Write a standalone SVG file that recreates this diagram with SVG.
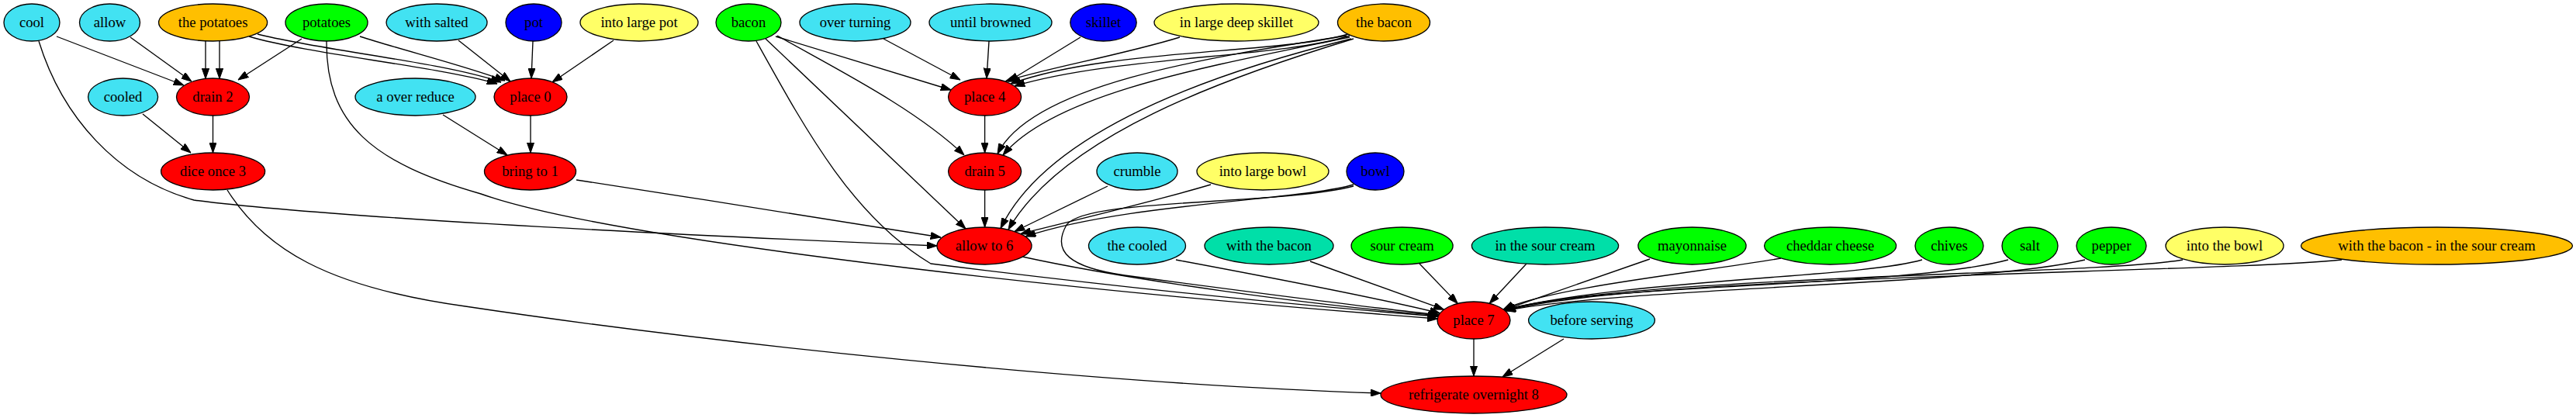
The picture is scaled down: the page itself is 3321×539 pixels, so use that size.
<svg xmlns="http://www.w3.org/2000/svg" width="3321" height="539" viewBox="0 0 3321 539">
<style>
.n ellipse{stroke:#000;stroke-width:1.33}
.n text{font-family:"Liberation Serif","Times New Roman",serif;font-size:18.67px;text-anchor:middle;fill:#000}
.cy{fill:#42e2f2}.or{fill:#ffbf00}.gr{fill:#00ff00}.bl{fill:#0000ff}.ye{fill:#ffff66}.rd{fill:#ff0000}.tl{fill:#00dfa8}
#edges path{fill:none;stroke:#000;stroke-width:1.33;marker-end:url(#ah)}
</style>
<defs>
<marker id="ah" viewBox="0 0 13.3 9.34" refX="13.3" refY="4.67" markerWidth="13.3" markerHeight="9.34" markerUnits="userSpaceOnUse" orient="auto"><path d="M0,0 L13.3,4.67 L0,9.34 z" fill="#000" stroke="#000" stroke-width="1"/></marker>
</defs>
<rect width="3321" height="539" fill="#fff"/>
<g id="edges">
<path d="M73,47 L237,110"/>
<path d="M50,53 C80,150 150,230 250,258 C400,278 800,300 1208,317"/>
<path d="M168,48 L247,105"/>
<path d="M265,53 L265,101.5"/>
<path d="M283,53 L283,101.5"/>
<path d="M321,47 C400,70 560,85 641,108"/>
<path d="M332,44 C420,66 570,80 646,106"/>
<path d="M389,50 L307,103"/>
<path d="M464,47 C520,65 600,85 651,104"/>
<path d="M421,53 C420,160 480,210 620,250 C760,300 1250,365 1853.5,411"/>
<path d="M184,147 L246,197"/>
<path d="M274.5,149 L274.5,197"/>
<path d="M293,245 C340,320 420,370 600,395 C900,440 1400,495 1780,507"/>
<path d="M591,52 L658,105"/>
<path d="M687,53 L685,101"/>
<path d="M791,52 L712,106"/>
<path d="M571,148 L654,200"/>
<path d="M684,149 L684,197"/>
<path d="M743,232 C900,256 1100,288 1213,306"/>
<path d="M1000,47 L1226,116"/>
<path d="M1002,46 C1080,90 1180,140 1243,200"/>
<path d="M987,50 L1245,295"/>
<path d="M975,53 C1040,170 1100,280 1200,340 C1400,365 1650,392 1854,408"/>
<path d="M1139,50 L1238,103"/>
<path d="M1275,53 L1272,101"/>
<path d="M1393,48 L1300,105"/>
<path d="M1521,48 C1450,70 1340,90 1296,105"/>
<path d="M1738,44 C1650,70 1430,62 1303,108"/>
<path d="M1740,46 C1650,75 1440,72 1308,111"/>
<path d="M1736,46 C1550,75 1330,110 1286,198.5"/>
<path d="M1740,48 C1560,85 1360,120 1293,200"/>
<path d="M1742,50 C1560,95 1350,170 1290,294.5"/>
<path d="M1745,50 C1580,100 1370,175 1300,296"/>
<path d="M1269.6,149 L1269.6,197"/>
<path d="M1269.6,245 L1269.6,293"/>
<path d="M1428,240 L1308,298.5"/>
<path d="M1561,238 C1480,262 1380,285 1316,301.5"/>
<path d="M1745,238 C1680,258 1450,262 1322,305"/>
<path d="M1745,240 C1650,265 1400,255 1375,290 C1355,325 1380,345 1450,355 C1600,375 1750,395 1855,406"/>
<path d="M1318,331 C1450,360 1700,395 1854.7,406.6"/>
<path d="M1516,335 C1650,360 1780,385 1856.5,404"/>
<path d="M1689,337 L1861.6,399.2"/>
<path d="M1830,340 L1879.3,391.4"/>
<path d="M1968,340 L1920.2,391.3"/>
<path d="M2127,334 L1938.8,399.5"/>
<path d="M2296,333 C2200,350 2000,370 1938,399"/>
<path d="M2478,335 C2400,358 2100,360 1939,399.5"/>
<path d="M2589,335 C2450,372 2050,365 1940,400"/>
<path d="M2688,335 C2550,368 2100,370 1940.5,400.5"/>
<path d="M2814,335 C2700,355 2100,355 1940,400"/>
<path d="M3019,335 C2850,352 2100,355 1941,401"/>
<path d="M1900,437 L1900,485"/>
<path d="M2016,437 L1937,486"/>
</g>
<g id="n_cool" class="n"><ellipse class="cy" cx="41" cy="29" rx="36" ry="24"/><text x="41" y="35">cool</text></g>
<g id="n_allow" class="n"><ellipse class="cy" cx="141.5" cy="29" rx="39" ry="24"/><text x="141.5" y="35">allow</text></g>
<g id="n_the_potatoes" class="n"><ellipse class="or" cx="274.6" cy="29" rx="70" ry="24"/><text x="274.6" y="35">the potatoes</text></g>
<g id="n_potatoes" class="n"><ellipse class="gr" cx="421" cy="29" rx="53" ry="24"/><text x="421" y="35">potatoes</text></g>
<g id="n_with_salted" class="n"><ellipse class="cy" cx="563" cy="29" rx="65" ry="24"/><text x="563" y="35">with salted</text></g>
<g id="n_pot" class="n"><ellipse class="bl" cx="688" cy="29" rx="36" ry="24"/><text x="688" y="35">pot</text></g>
<g id="n_into_large_pot" class="n"><ellipse class="ye" cx="824" cy="29" rx="76" ry="24"/><text x="824" y="35">into large pot</text></g>
<g id="n_bacon" class="n"><ellipse class="gr" cx="965" cy="29" rx="42" ry="24"/><text x="965" y="35">bacon</text></g>
<g id="n_over_turning" class="n"><ellipse class="cy" cx="1102.5" cy="29" rx="71.5" ry="24"/><text x="1102.5" y="35">over turning</text></g>
<g id="n_until_browned" class="n"><ellipse class="cy" cx="1277" cy="29" rx="79" ry="24"/><text x="1277" y="35">until browned</text></g>
<g id="n_skillet" class="n"><ellipse class="bl" cx="1422.5" cy="29" rx="42.7" ry="24"/><text x="1422.5" y="35">skillet</text></g>
<g id="n_in_large_deep_skillet" class="n"><ellipse class="ye" cx="1594" cy="29" rx="106" ry="24"/><text x="1594" y="35">in large deep skillet</text></g>
<g id="n_the_bacon" class="n"><ellipse class="or" cx="1784" cy="29" rx="59.5" ry="24"/><text x="1784" y="35">the bacon</text></g>
<g id="n_cooled" class="n"><ellipse class="cy" cx="158.6" cy="125" rx="45" ry="24"/><text x="158.6" y="131">cooled</text></g>
<g id="n_drain2" class="n"><ellipse class="rd" cx="274.5" cy="125" rx="47" ry="24"/><text x="274.5" y="131">drain 2</text></g>
<g id="n_a_over_reduce" class="n"><ellipse class="cy" cx="535.5" cy="125" rx="77.5" ry="24"/><text x="535.5" y="131">a over reduce</text></g>
<g id="n_place0" class="n"><ellipse class="rd" cx="684" cy="125" rx="47" ry="24"/><text x="684" y="131">place 0</text></g>
<g id="n_place4" class="n"><ellipse class="rd" cx="1269.6" cy="125" rx="47" ry="24"/><text x="1269.6" y="131">place 4</text></g>
<g id="n_dice_once3" class="n"><ellipse class="rd" cx="274.6" cy="221" rx="67" ry="24"/><text x="274.6" y="227">dice once 3</text></g>
<g id="n_bring_to1" class="n"><ellipse class="rd" cx="683.5" cy="221" rx="59" ry="24"/><text x="683.5" y="227">bring to 1</text></g>
<g id="n_drain5" class="n"><ellipse class="rd" cx="1269.6" cy="221" rx="47" ry="24"/><text x="1269.6" y="227">drain 5</text></g>
<g id="n_crumble" class="n"><ellipse class="cy" cx="1466" cy="221" rx="52" ry="24"/><text x="1466" y="227">crumble</text></g>
<g id="n_into_large_bowl" class="n"><ellipse class="ye" cx="1628" cy="221" rx="85" ry="24"/><text x="1628" y="227">into large bowl</text></g>
<g id="n_bowl" class="n"><ellipse class="bl" cx="1773" cy="221" rx="37" ry="24"/><text x="1773" y="227">bowl</text></g>
<g id="n_allow_to6" class="n"><ellipse class="rd" cx="1269" cy="317" rx="61" ry="24"/><text x="1269" y="323">allow to 6</text></g>
<g id="n_the_cooled" class="n"><ellipse class="cy" cx="1466" cy="317" rx="62.5" ry="24"/><text x="1466" y="323">the cooled</text></g>
<g id="n_with_the_bacon" class="n"><ellipse class="tl" cx="1636" cy="317" rx="83" ry="24"/><text x="1636" y="323">with the bacon</text></g>
<g id="n_sour_cream" class="n"><ellipse class="gr" cx="1807.6" cy="317" rx="65.5" ry="24"/><text x="1807.6" y="323">sour cream</text></g>
<g id="n_in_the_sour_cream" class="n"><ellipse class="tl" cx="1992" cy="317" rx="94.6" ry="24"/><text x="1992" y="323">in the sour cream</text></g>
<g id="n_mayonnaise" class="n"><ellipse class="gr" cx="2181.5" cy="317" rx="69.6" ry="24"/><text x="2181.5" y="323">mayonnaise</text></g>
<g id="n_cheddar_cheese" class="n"><ellipse class="gr" cx="2359.6" cy="317" rx="85" ry="24"/><text x="2359.6" y="323">cheddar cheese</text></g>
<g id="n_chives" class="n"><ellipse class="gr" cx="2513" cy="317" rx="44" ry="24"/><text x="2513" y="323">chives</text></g>
<g id="n_salt" class="n"><ellipse class="gr" cx="2617" cy="317" rx="36" ry="24"/><text x="2617" y="323">salt</text></g>
<g id="n_pepper" class="n"><ellipse class="gr" cx="2722" cy="317" rx="45" ry="24"/><text x="2722" y="323">pepper</text></g>
<g id="n_into_the_bowl" class="n"><ellipse class="ye" cx="2868" cy="317" rx="76" ry="24"/><text x="2868" y="323">into the bowl</text></g>
<g id="n_with_bacon_sour" class="n"><ellipse class="or" cx="3141.5" cy="317" rx="175" ry="24"/><text x="3141.5" y="323">with the bacon - in the sour cream</text></g>
<g id="n_place7" class="n"><ellipse class="rd" cx="1900" cy="413" rx="47" ry="24"/><text x="1900" y="419">place 7</text></g>
<g id="n_before_serving" class="n"><ellipse class="cy" cx="2052" cy="413" rx="81.4" ry="24"/><text x="2052" y="419">before serving</text></g>
<g id="n_refrigerate" class="n"><ellipse class="rd" cx="1900" cy="509" rx="120" ry="24"/><text x="1900" y="515">refrigerate overnight 8</text></g>
</svg>
